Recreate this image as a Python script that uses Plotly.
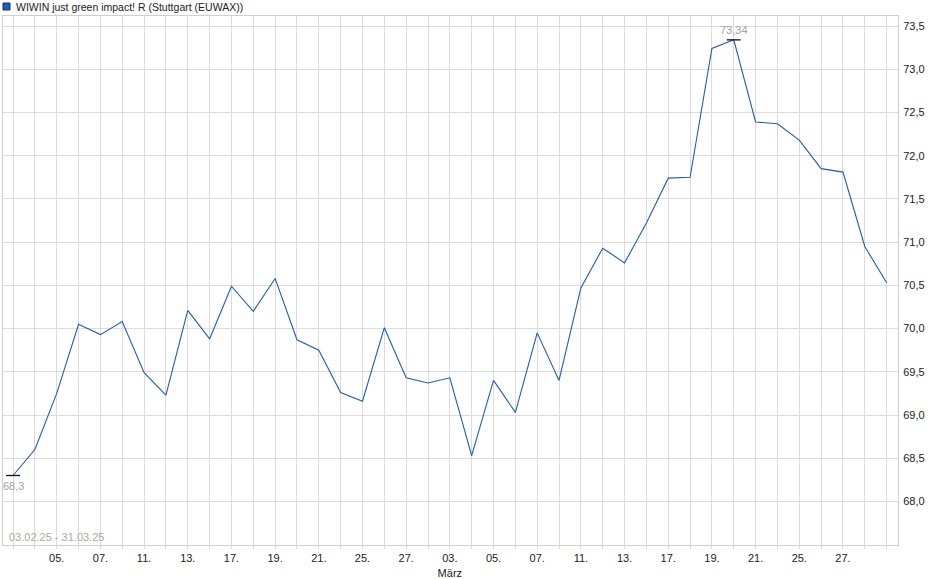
import plotly.graph_objects as go

# trading days 03.02.25 - 31.03.25
days = [
    "03.02.", "04.02.", "05.02.", "06.02.", "07.02.", "10.02.", "11.02.", "12.02.",
    "13.02.", "14.02.", "17.02.", "18.02.", "19.02.", "20.02.", "21.02.", "24.02.",
    "25.02.", "26.02.", "27.02.", "28.02.", "03.03.", "04.03.", "05.03.", "06.03.",
    "07.03.", "10.03.", "11.03.", "12.03.", "13.03.", "14.03.", "17.03.", "18.03.",
    "19.03.", "20.03.", "21.03.", "24.03.", "25.03.", "26.03.", "27.03.", "28.03.",
    "31.03.",
]
prices = [
    68.30, 68.60, 69.25, 70.05, 69.93, 70.08, 69.49, 69.23,
    70.21, 69.88, 70.49, 70.20, 70.58, 69.87, 69.75, 69.26,
    69.16, 70.01, 69.43, 69.37, 69.43, 68.53, 69.40, 69.03,
    69.95, 69.40, 70.47, 70.93, 70.76, 71.22, 71.74, 71.75,
    73.24, 73.34, 72.39, 72.37, 72.18, 71.85, 71.81, 70.95,
    70.53,
]
y_ticks = [68.0, 68.5, 69.0, 69.5, 70.0, 70.5, 71.0, 71.5, 72.0, 72.5, 73.0, 73.5]
month_names = {"03": "März"}
title = "WIWIN just green impact! R (Stuttgart (EUWAX))"
period = "03.02.25 - 31.03.25"

x = list(range(len(days)))

# every second trading day gets a label, the first and last stay blank
tick_text = []
for i, d in enumerate(days):
    if i % 2 == 0 and 0 < i < len(days) - 1:
        lab = d[:3]
        if d[3:5] != days[i - 1][3:5]:
            lab += "<br>" + month_names[d[3:5]]
        tick_text.append(lab)
    else:
        tick_text.append("")

i_min = prices.index(min(prices))
i_max = prices.index(max(prices))


def de(v):
    return f"{v:g}".replace(".", ",")


grey = "#a3a3a3"
grid = "#dcdcdc"

fig = go.Figure()
fig.add_trace(go.Scatter(
    x=x, y=prices, mode="lines",
    line=dict(color="#1f5bc6", width=1.1),
    hoverinfo="skip", showlegend=False,
))
fig.add_trace(go.Scatter(
    x=[i_min, i_max], y=[prices[i_min], prices[i_max]], mode="markers",
    marker=dict(symbol="line-ew", size=10, line=dict(color="#111", width=1.3)),
    hoverinfo="skip", showlegend=False,
))

fig.add_annotation(x=i_min, y=prices[i_min], text=de(prices[i_min]), showarrow=False,
                   yshift=-10, font=dict(size=11, color=grey))
fig.add_annotation(x=i_max, y=prices[i_max], text=de(prices[i_max]), showarrow=False,
                   yshift=10, font=dict(size=11, color=grey))
fig.add_annotation(x=0, y=0, xref="paper", yref="paper", xanchor="left", yanchor="bottom",
                   xshift=4, yshift=0, text=period, showarrow=False,
                   font=dict(size=11, color="#b0a89c"))
# title + legend box live above the plot area
fig.add_annotation(x=0, y=1, xref="paper", yref="paper", xanchor="left", yanchor="bottom",
                   xshift=11, yshift=1, text=title, showarrow=False,
                   font=dict(size=10.5, color="#222"))
fig.add_shape(type="rect", xref="paper", yref="paper",
              xsizemode="pixel", ysizemode="pixel", xanchor=0, yanchor=1,
              x0=0, x1=7, y0=6, y1=13,
              line=dict(color="#1b2f66", width=1), fillcolor="#1f5bc6")

fig.update_layout(
    width=940, height=579,
    margin=dict(l=3, r=42, t=16, b=34),
    plot_bgcolor="white", paper_bgcolor="white",
    separators=",.",
    font=dict(family="Liberation Sans, Arial, sans-serif", size=11, color="#222"),
)

fig.update_xaxes(
    range=[-0.46, 40.52], automargin=False,
    tickvals=x, ticktext=tick_text, tickangle=0,
    ticks="outside", ticklen=3, tickcolor=grid,
    showgrid=True, gridcolor=grid, gridwidth=1,
    showline=True, linecolor="#cfcfcf", mirror=True,
    zeroline=False, fixedrange=True,
    tickfont=dict(size=11, color="#222"),
)
fig.update_yaxes(
    range=[67.496, 73.616], side="right", automargin=False,
    tickvals=y_ticks, tickformat=".1f",
    ticks="outside", ticklen=2, tickcolor="white",
    showgrid=True, gridcolor=grid, gridwidth=1,
    showline=True, linecolor="#cfcfcf", mirror=True,
    zeroline=False, fixedrange=True,
    tickfont=dict(size=11, color="#222"),
)

# the page body has an 8px default margin; drop it so the chart sits at 0,0
fig.write_html("out.html", config={"displayModeBar": False},
               post_script="document.body.style.margin='0';")
